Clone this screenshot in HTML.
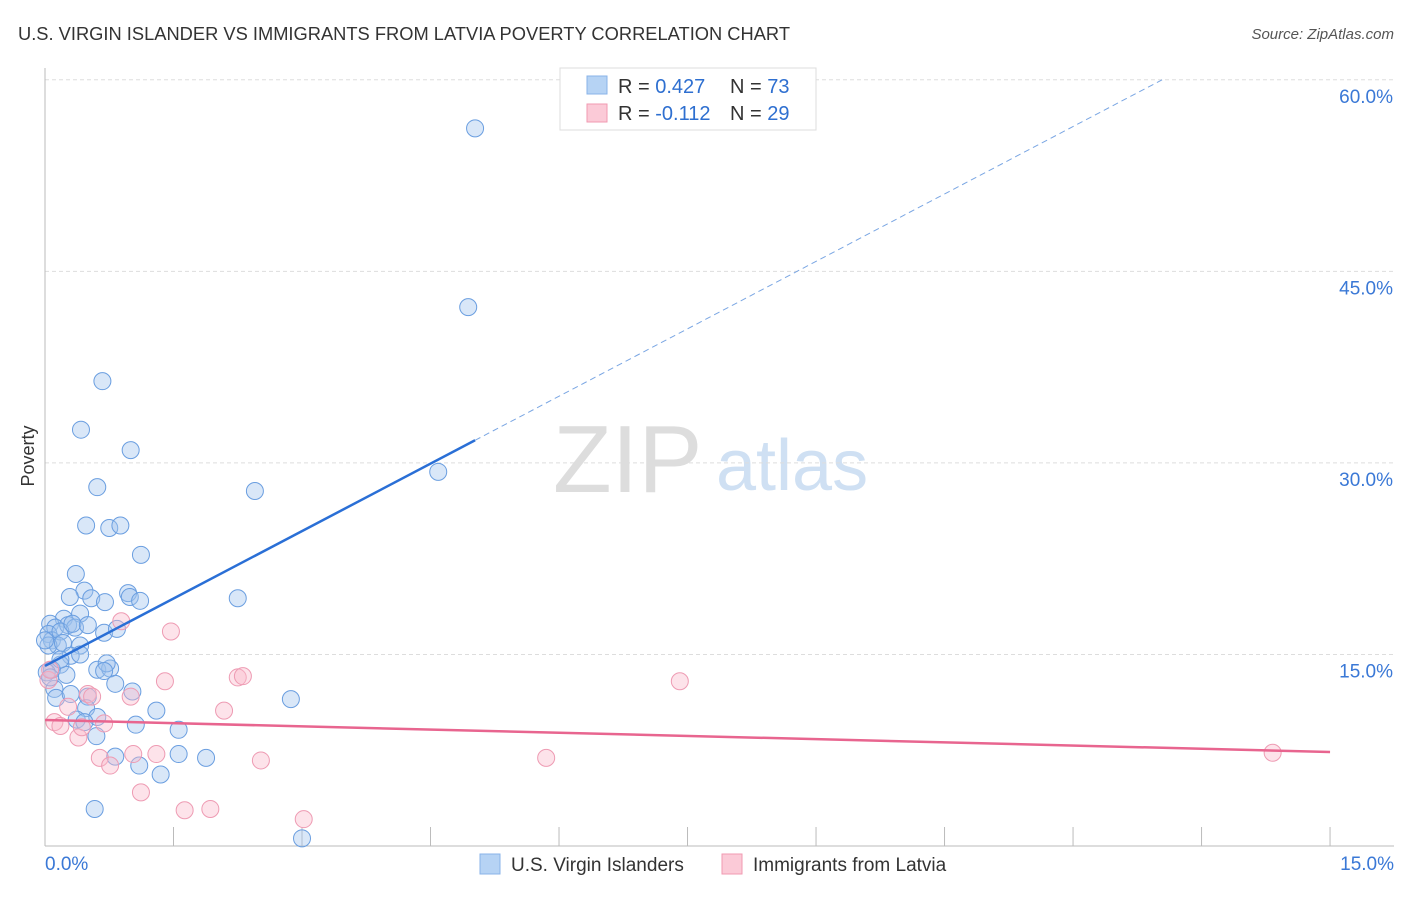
<!DOCTYPE html>
<html><head><meta charset="utf-8"><style>
body{margin:0;background:#fff;font-family:"Liberation Sans",sans-serif;}
svg text{font-family:"Liberation Sans",sans-serif;}
</style></head><body>
<svg id="chart" width="1406" height="892">
<text x="18" y="40" font-size="18" fill="#333" textLength="772" lengthAdjust="spacingAndGlyphs">U.S. VIRGIN ISLANDER VS IMMIGRANTS FROM LATVIA POVERTY CORRELATION CHART</text>
<text x="1394" y="39" font-size="15" fill="#555" font-style="italic" text-anchor="end">Source: ZipAtlas.com</text>
<text x="34" y="456" font-size="18" fill="#333" transform="rotate(-90 34 456)" text-anchor="middle">Poverty</text>
<g>
<text x="553" y="492" font-size="96" fill="#ddd" font-family="Liberation Serif,serif">ZIP</text>
<text x="716" y="490" font-size="72" fill="#cfe0f3">atlas</text>
</g>
<g id="grid"></g><g id="axes"></g><g id="marks"></g>
<g>
<rect x="560" y="68" width="256" height="62" fill="#fff" stroke="#ddd"/>
<rect x="587" y="76" width="20" height="18" fill="#b6d3f4" stroke="#88b3e8"/>
<rect x="587" y="104" width="20" height="18" fill="#fbcad7" stroke="#f09ab2"/>
<text x="618" y="93" font-size="20" fill="#333">R = <tspan fill="#2e6fd0">0.427</tspan></text>
<text x="730" y="93" font-size="20" fill="#333">N = <tspan fill="#2e6fd0">73</tspan></text>
<text x="618" y="120" font-size="20" fill="#333">R = <tspan fill="#2e6fd0">-0.112</tspan></text>
<text x="730" y="120" font-size="20" fill="#333">N = <tspan fill="#2e6fd0">29</tspan></text>
</g>
<g>
<rect x="480" y="854" width="20" height="20" fill="#b6d3f4" stroke="#88b3e8"/>
<text x="511" y="871" font-size="19" fill="#333">U.S. Virgin Islanders</text>
<rect x="722" y="854" width="20" height="20" fill="#fbcad7" stroke="#f09ab2"/>
<text x="753" y="871" font-size="19" fill="#333">Immigrants from Latvia</text>
</g>
</svg>
<script>
const yTicks=[15,30,45,60];
const yTickLabels=["15.0%","30.0%","45.0%","60.0%"];
const xTicks=[0,1.5,3,4.5,6,7.5,9,10.5,12,13.5,15];
const blueX=[5.02,4.94,0.67,0.42,1.00,0.61,2.45,4.59,0.48,0.75,0.88,1.12,0.36,0.46,0.29,0.54,0.70,0.97,0.99,1.11,2.25,0.41,0.22,0.06,0.12,0.27,0.35,0.04,0.08,0.18,0.32,0.50,0.69,0.84,0.15,0.04,0.21,0.41,0.30,0.18,0.08,0.41,0.02,0.25,0.61,0.76,0.72,0.69,0.82,1.02,0.11,0.13,0.30,0.50,0.48,1.30,0.61,0.37,0.46,1.56,1.06,0.60,0.82,1.10,1.56,1.88,1.35,0.58,3.00,2.87,0.06,0.0,0.18];
const blueY=[56.2,42.2,36.4,32.6,31.0,28.1,27.8,29.3,25.1,24.9,25.1,22.8,21.3,20.0,19.5,19.4,19.1,19.8,19.5,19.2,19.4,18.2,17.8,17.4,17.1,17.3,17.1,16.6,16.1,16.8,17.4,17.3,16.7,17.0,15.7,15.7,15.9,15.7,14.9,14.2,13.8,15.0,13.6,13.4,13.8,13.9,14.3,13.7,12.7,12.1,12.3,11.6,11.9,11.7,10.8,10.6,10.1,9.9,9.7,9.1,9.5,8.6,7.0,6.3,7.2,6.9,5.6,2.9,0.6,11.5,13.2,16.1,14.6];
const pinkX=[0.89,1.47,1.40,2.25,2.31,7.41,0.50,0.55,1.00,2.09,0.11,0.18,0.27,0.69,0.39,0.43,0.64,0.76,1.03,1.30,2.52,5.85,14.33,1.12,1.63,1.93,3.02,0.04,0.06];
const pinkY=[17.6,16.8,12.9,13.2,13.3,12.9,11.9,11.7,11.7,10.6,9.7,9.4,10.9,9.6,8.5,9.3,6.9,6.3,7.2,7.2,6.7,6.9,7.3,4.2,2.8,2.9,2.1,13.0,13.8];
const blueTrend=[14.1,3.52];
const pinkTrend=[9.87,-0.167];
const X=v=>45+v*85.67, Y=v=>846-v*12.77;
const NS="http://www.w3.org/2000/svg";
function mk(t,a,p){const e=document.createElementNS(NS,t);for(const k in a)e.setAttribute(k,a[k]);p.appendChild(e);return e;}
const grid=document.getElementById('grid'),axes=document.getElementById('axes'),marks=document.getElementById('marks');
yTicks.forEach((t,i)=>{
 const l=mk('line',{x1:45,x2:1394,y1:Y(t),y2:Y(t),stroke:'#ddd','stroke-dasharray':'4,3'},grid);
 
 
 const tx=mk('text',{x:1393,y:Y(t)+23,'font-size':19,fill:'#3a78d6','text-anchor':'end'},axes);tx.textContent=yTickLabels[i];
 
 
});
const ya=mk('line',{x1:45,x2:45,y1:68,y2:846,stroke:'#bbb'},axes);


const xa=mk('line',{x1:45,x2:1394,y1:846,y2:846,stroke:'#bbb'},axes);


xTicks.forEach(t=>{const l=mk('line',{x1:X(t),x2:X(t),y1:827,y2:846,stroke:'#bbb'},axes);
 
 });
[[0,"0.0%",'start',45],[15,"15.0%",'end',1394]].forEach(d=>{const t=mk('text',{x:d[3],y:870,'font-size':19,fill:'#3a78d6','text-anchor':d[2]},axes);t.textContent=d[1];
 
 });
blueX.forEach((x,i)=>{const c=mk('circle',{cx:X(x),cy:Y(blueY[i]),r:8.5,fill:'rgba(160,196,238,0.4)',stroke:'#6a9ee0','stroke-width':1},marks);
 
 });
pinkX.forEach((x,i)=>{const c=mk('circle',{cx:X(x),cy:Y(pinkY[i]),r:8.5,fill:'rgba(249,185,203,0.4)',stroke:'#ee9bb3','stroke-width':1},marks);
 
 });
const bEnd=5.02, bDashEnd=(60-blueTrend[0])/blueTrend[1];
const bl=mk('line',{x1:X(0),y1:Y(blueTrend[0]),x2:X(bEnd),y2:Y(blueTrend[0]+blueTrend[1]*bEnd),stroke:'#2a6fd6','stroke-width':2.5},marks);


const bd=mk('line',{x1:X(bEnd),y1:Y(blueTrend[0]+blueTrend[1]*bEnd),x2:X(bDashEnd),y2:Y(60),stroke:'#7aa6e3','stroke-width':1,'stroke-dasharray':'6,4'},marks);


const pl=mk('line',{x1:X(0),y1:Y(pinkTrend[0]),x2:X(15),y2:Y(pinkTrend[0]+pinkTrend[1]*15),stroke:'#e8658f','stroke-width':2.5},marks);


</script>
</body></html>
